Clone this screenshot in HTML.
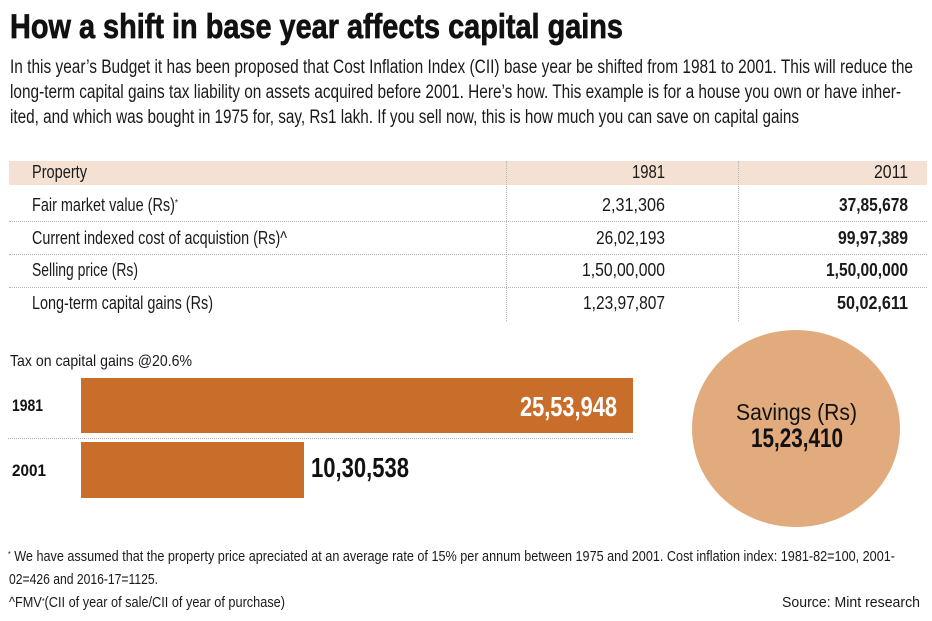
<!DOCTYPE html>
<html><head><meta charset="utf-8">
<style>
html,body{margin:0;padding:0;background:#fff;}
body{width:932px;height:621px;position:relative;overflow:hidden;font-family:"Liberation Sans",sans-serif;color:#1a1a1a;}
.t{position:absolute;white-space:nowrap;line-height:1;transform-origin:0 0;transform:scaleX(.8);}
.b{font-weight:bold;}
.sup{position:relative;top:-0.45em;font-size:0.55em;}
.hl{position:absolute;border-top:1px dotted #b5b5b5;height:0;}
.vl{position:absolute;border-left:1px dotted #b5b5b5;width:0;}
</style></head><body>

<div class="t b" style="left:10px;top:10.2px;font-size:34px;color:#111;-webkit-text-stroke:0.7px #111" w="613">How a shift in base year affects capital gains</div>
<div class="t" style="left:10px;top:57.9px;font-size:19px" w="903">In this year’s Budget it has been proposed that Cost Inflation Index (CII) base year be shifted from 1981 to 2001. This will reduce the</div>
<div class="t" style="left:10px;top:82.9px;font-size:19px" w="891">long-term capital gains tax liability on assets acquired before 2001. Here’s how. This example is for a house you own or have inher-</div>
<div class="t" style="left:10px;top:107.9px;font-size:19px" w="789">ited, and which was bought in 1975 for, say, Rs1 lakh. If you sell now, this is how much you can save on capital gains</div>

<!-- table -->
<div style="position:absolute;left:9px;top:161px;width:918px;height:24px;background:#f4e1d3"></div>
<div class="hl" style="left:9px;top:221px;width:918px"></div>
<div class="hl" style="left:9px;top:254px;width:918px"></div>
<div class="hl" style="left:9px;top:287px;width:918px"></div>
<div class="vl" style="left:506px;top:161px;height:160px"></div>
<div class="vl" style="left:738px;top:161px;height:160px"></div>

<div class="t" style="left:32px;top:162.8px;font-size:18px" w="55">Property</div>
<div class="t" style="left:632px;top:162.8px;font-size:18px" w="33">1981</div>
<div class="t" style="left:874px;top:162.8px;font-size:18px" w="34">2011</div>

<div class="t" style="left:32px;top:195.8px;font-size:18px" w="146">Fair market value (Rs)<span class="sup">*</span></div>
<div class="t" style="left:602px;top:195.8px;font-size:18px" w="63">2,31,306</div>
<div class="t b" style="left:839px;top:195.8px;font-size:18px" w="69">37,85,678</div>

<div class="t" style="left:32px;top:228.5px;font-size:18px" w="255">Current indexed cost of acquistion (Rs)^</div>
<div class="t" style="left:596px;top:228.5px;font-size:18px" w="69">26,02,193</div>
<div class="t b" style="left:838px;top:228.5px;font-size:18px" w="70">99,97,389</div>

<div class="t" style="left:32px;top:261.2px;font-size:18px" w="106">Selling price (Rs)</div>
<div class="t" style="left:582px;top:261.2px;font-size:18px" w="83">1,50,00,000</div>
<div class="t b" style="left:826px;top:261.2px;font-size:18px" w="82">1,50,00,000</div>

<div class="t" style="left:32px;top:293.8px;font-size:18px" w="181">Long-term capital gains (Rs)</div>
<div class="t" style="left:583px;top:293.8px;font-size:18px" w="82">1,23,97,807</div>
<div class="t b" style="left:837px;top:293.8px;font-size:18px" w="71">50,02,611</div>

<!-- bars -->
<div class="t" style="left:10px;top:353.5px;font-size:16px" w="182">Tax on capital gains @20.6%</div>
<div style="position:absolute;left:81px;top:378px;width:552px;height:55px;background:#c96d2a"></div>
<div class="hl" style="left:8px;top:438px;width:625px"></div>
<div style="position:absolute;left:81px;top:442px;width:223px;height:56px;background:#c96d2a"></div>
<div class="t b" style="left:12px;top:397.3px;font-size:17px;color:#111" w="31">1981</div>
<div class="t b" style="left:12px;top:461.6px;font-size:17px;color:#111" w="34">2001</div>
<div class="t b" style="left:520px;top:393.3px;font-size:28px;color:#fff" w="97">25,53,948</div>
<div class="t b" style="left:311px;top:454.3px;font-size:28px;color:#111" w="98">10,30,538</div>

<!-- circle -->
<div style="position:absolute;left:692px;top:330px;width:208px;height:197px;border-radius:50%;background:#e1ab7e"></div>
<div class="t" style="left:736px;top:400.5px;font-size:23px;color:#111" w="121">Savings (Rs)</div>
<div class="t b" style="left:751px;top:425.1px;font-size:27px;color:#111" w="92">15,23,410</div>

<!-- footer -->
<div class="t" style="left:8px;top:549px;font-size:15px" w="887"><span class="sup">*</span> We have assumed that the property price apreciated at an average rate of 15% per annum between 1975 and 2001. Cost inflation index: 1981-82=100, 2001-</div>
<div class="t" style="left:9px;top:572.3px;font-size:15px" w="149">02=426 and 2016-17=1125.</div>
<div class="t" style="left:9px;top:595.3px;font-size:15px" w="276">^FMV<span class="sup">*</span>(CII of year of sale/CII of year of purchase)</div>
<div class="t" style="left:782px;top:595.3px;font-size:15px" w="138">Source: Mint research</div>

<script>
(function(){
  var els=document.querySelectorAll('.t');
  for(var i=0;i<els.length;i++){
    var e=els[i];
    e.style.transform='none';
    var w=parseFloat(e.getAttribute('w'));
    var nw=e.getBoundingClientRect().width;
    if(nw>0&&w>0){e.style.transform='scaleX('+(w/nw)+')';}
  }
})();
</script>
</body></html>
